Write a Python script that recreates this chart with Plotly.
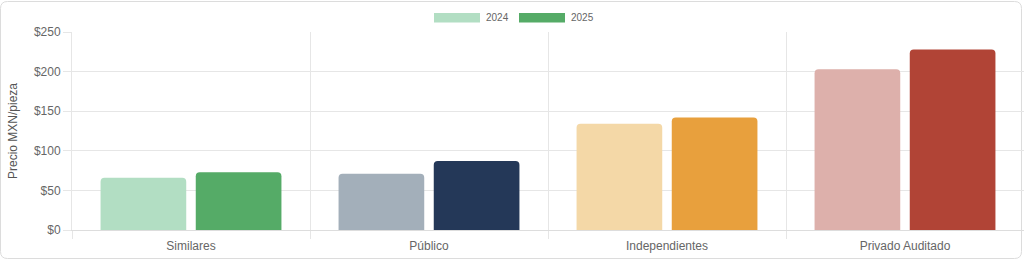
import plotly.graph_objects as go

categories = ["Similares", "Público", "Independientes", "Privado Auditado"]
series_names = ["2024", "2025"]
values_2024 = [66, 71, 134, 203]
values_2025 = [73, 87, 142, 228]
colors_2024 = ["#b2dec3", "#a3afba", "#f4d8a7", "#ddb0ab"]
colors_2025 = ["#55ab67", "#243858", "#e8a03d", "#b14436"]
y_ticks = [0, 50, 100, 150, 200, 250]
y_tick_labels = ["$0", "$50", "$100", "$150", "$200", "$250"]
y_title = "Precio MXN/pieza"

W, H = 1024, 261
L, R, T, B = 72, 0, 32, 31
PW, PH = W - L - R, H - T - B
FONT = "Liberation Sans, Arial, Helvetica, sans-serif"
GRID = "#e6e6e6"
TXT = "#666666"


def px(x):
    return (x - L) / PW


def py(y):
    return (H - B - y) / PH


fig = go.Figure()
fig.add_trace(go.Bar(name=series_names[0], x=categories, y=values_2024,
                     marker=dict(color=colors_2024, cornerradius=4, line=dict(width=0)),
                     hoverinfo="skip"))
fig.add_trace(go.Bar(name=series_names[1], x=categories, y=values_2025,
                     marker=dict(color=colors_2025, cornerradius=4, line=dict(width=0)),
                     hoverinfo="skip"))

shapes = []
annotations = []

# card outline
x0, x1, y0, y1, r = 0.5, 1021.5, 1.5, 258.5, 7
path = (f"M {px(x0 + r)},{py(y0)} L {px(x1 - r)},{py(y0)} "
        f"Q {px(x1)},{py(y0)} {px(x1)},{py(y0 + r)} "
        f"L {px(x1)},{py(y1 - r)} Q {px(x1)},{py(y1)} {px(x1 - r)},{py(y1)} "
        f"L {px(x0 + r)},{py(y1)} Q {px(x0)},{py(y1)} {px(x0)},{py(y1 - r)} "
        f"L {px(x0)},{py(y0 + r)} Q {px(x0)},{py(y0)} {px(x0 + r)},{py(y0)} Z")
shapes.append(dict(type="path", xref="paper", yref="paper", path=path,
                   line=dict(color="#dcdcdc", width=1), fillcolor="rgba(0,0,0,0)",
                   layer="below"))

# legend (Chart.js style wide boxes)
legend_items = [(series_names[0], colors_2024[0], 434), (series_names[1], colors_2025[0], 519)]
for name, col, lx in legend_items:
    shapes.append(dict(type="rect", xref="paper", yref="paper",
                       x0=px(lx), x1=px(lx + 46), y0=py(22.5), y1=py(13),
                       fillcolor=col, line=dict(width=0)))
    annotations.append(dict(text=name, xref="paper", yref="paper",
                            x=px(lx + 50), y=py(17.5), xanchor="left", yanchor="middle",
                            showarrow=False, font=dict(size=10, color=TXT, family=FONT)))

# y axis title
annotations.append(dict(text=y_title, xref="paper", yref="paper", x=px(13), y=py(131),
                        textangle=-90, xanchor="center", yanchor="middle", showarrow=False,
                        font=dict(size=12, color="#555555", family=FONT)))

fig.update_layout(
    width=W, height=H,
    margin=dict(l=L, r=R, t=T, b=B, pad=0),
    paper_bgcolor="white", plot_bgcolor="white",
    barmode="group", bargap=0.2, bargroupgap=0.1,
    showlegend=False,
    font=dict(family=FONT, size=12, color=TXT),
    shapes=shapes, annotations=annotations,
    xaxis=dict(type="category", tickson="boundaries", ticks="outside", ticklen=8,
               tickcolor=GRID, showgrid=True, gridcolor=GRID, gridwidth=1,
               showline=True, linecolor="#dddddd", linewidth=1, ticklabelstandoff=5,
               tickfont=dict(size=12, color=TXT, family=FONT), fixedrange=True),
    yaxis=dict(range=[0, 250], tickmode="array", tickvals=y_ticks, ticktext=y_tick_labels,
               ticks="outside", ticklen=8, tickcolor=GRID, showgrid=True, gridcolor=GRID,
               gridwidth=1, showline=True, linecolor=GRID, linewidth=1, zeroline=False,
               tickfont=dict(size=12, color=TXT, family=FONT), fixedrange=True),
)

fig.write_html("out.html", config={"displayModeBar": False})
